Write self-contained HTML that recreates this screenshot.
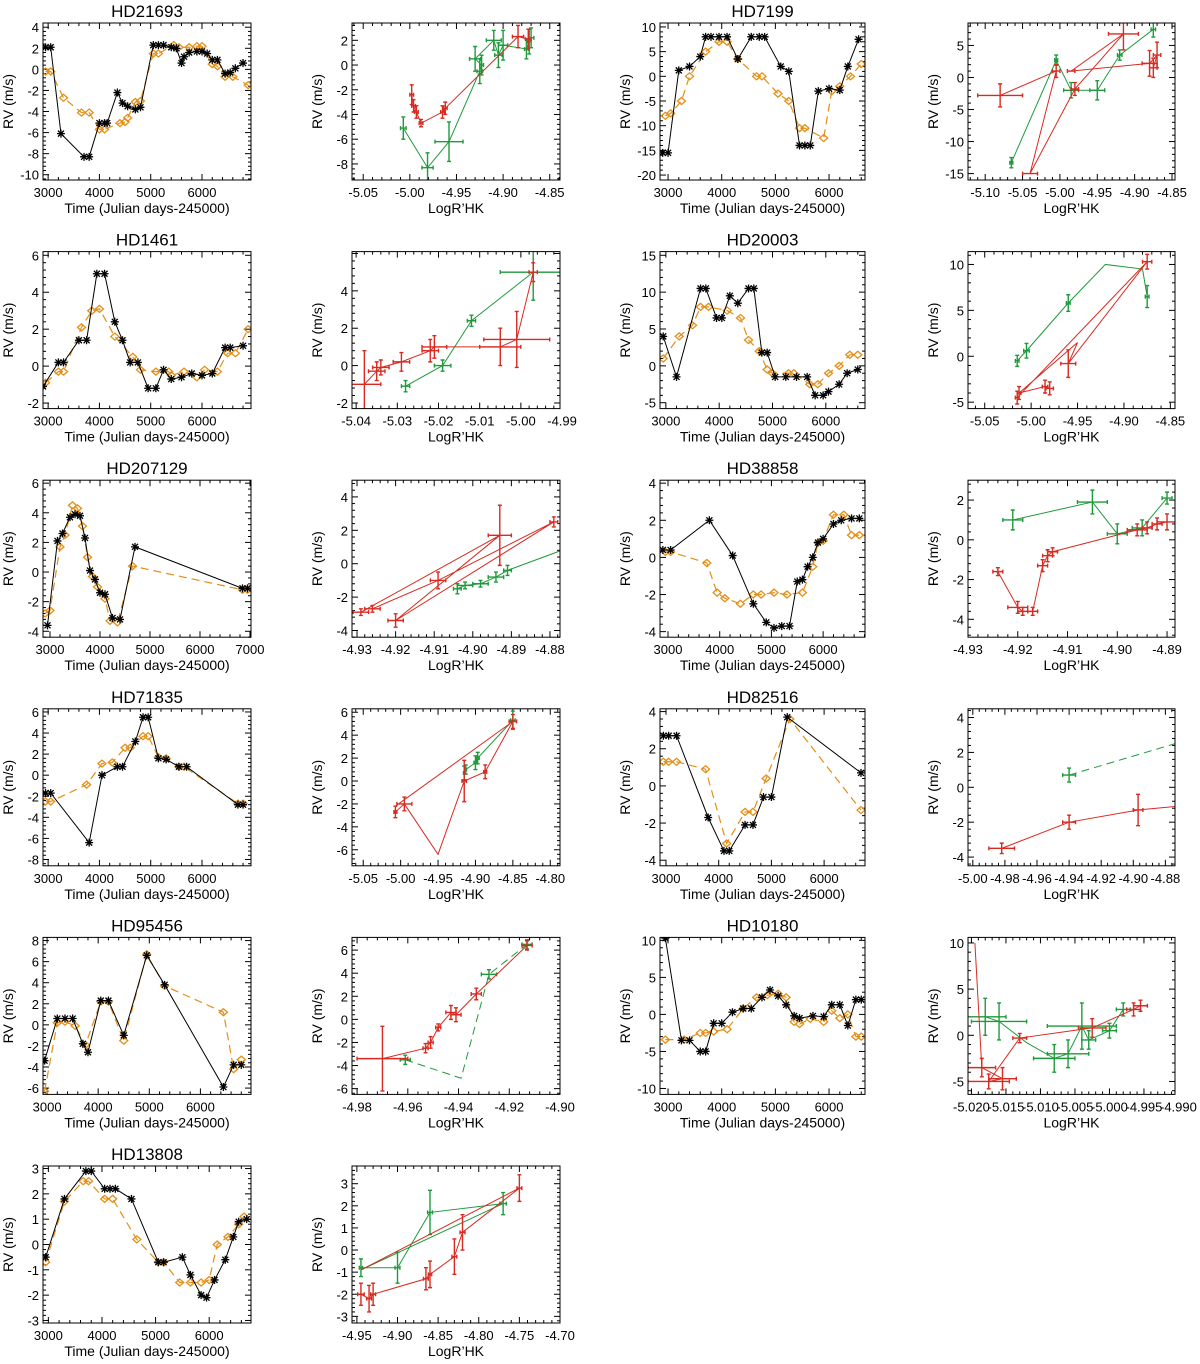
<!DOCTYPE html>
<html><head><meta charset="utf-8">
<style>
html,body{margin:0;padding:0;background:#fff;}
svg{display:block;font-family:"Liberation Sans",Arial,sans-serif;}
</style></head>
<body>
<svg id="fig" width="1200" height="1364" viewBox="0 0 1200 1364" xmlns="http://www.w3.org/2000/svg"></svg>
<script>
// ---- Time-series data: [time, rv] ----
const hd21693_black=[[2950,2.1],[3050,2.1],[3250,-6.1],[3700,-8.3],[3800,-8.3],[4000,-5.1],[4100,-5.1],[4150,-5.1],[4350,-2.2],[4450,-3.2],[4550,-3.5],[4700,-3.8],[4800,-3.6],[5050,2.3],[5150,2.3],[5250,2.3],[5400,2.1],[5500,2.0],[5600,0.6],[5650,1.2],[5750,1.6],[5900,1.7],[6000,1.7],[6100,1.5],[6200,0.9],[6300,0.9],[6450,-0.4],[6550,-0.3],[6650,0.1],[6800,0.6]];
const hd21693_orange=[[2950,-0.2],[3050,-0.2],[3300,-2.7],[3650,-4.1],[3800,-4.1],[4000,-5.7],[4100,-5.7],[4400,-5.1],[4500,-5.0],[4550,-4.6],[4700,-3.1],[4800,-3.0],[5050,1.5],[5150,1.5],[5450,2.3],[5550,2.1],[5750,2.1],[5900,2.2],[6000,2.2],[6200,0.5],[6300,0.3],[6450,-0.7],[6600,-0.7],[6900,-1.5]];
const hd7199_black=[[2900,-15.5],[3000,-15.5],[3200,1.2],[3400,2],[3600,4],[3700,8],[3800,8],[3950,8],[4100,8],[4300,3.5],[4550,8],[4700,8],[4800,8],[5100,2],[5250,1],[5450,-14],[5550,-14],[5650,-14],[5800,-3],[6000,-2.5],[6200,-2.8],[6350,2],[6550,7.5]];
const hd7199_orange=[[2950,-8],[3050,-7.5],[3250,-5],[3400,0],[3700,5],[3950,7],[4100,7],[4300,3.5],[4650,0],[4750,0],[5050,-3.5],[5250,-5],[5450,-10.5],[5550,-10.5],[5900,-12.5],[6050,-3],[6200,-2],[6400,0],[6600,2.5]];
const hd1461_black=[[2900,-1.1],[3200,0.2],[3300,0.2],[3600,1.4],[3750,1.4],[3950,5],[4100,5],[4300,2.4],[4450,1.4],[4600,0.2],[4750,0.2],[4950,-1.2],[5100,-1.2],[5250,-0.2],[5400,-0.7],[5600,-0.6],[5800,-0.4],[6000,-0.5],[6200,-0.4],[6450,1],[6550,1],[6800,1.1]];
const hd1461_orange=[[2950,-0.9],[3200,-0.3],[3300,-0.3],[3650,2.1],[3850,3],[4000,3.1],[4300,1.6],[4650,0.5],[4800,-0.2],[5100,-0.3],[5350,-0.3],[5400,-0.5],[5650,-0.3],[5900,-0.6],[6050,-0.2],[6300,-0.3],[6500,0.7],[6650,0.7],[6900,2]];
const hd20003_black=[[2950,4],[3200,-1.5],[3650,10.5],[3750,10.5],[3950,6.5],[4050,6.5],[4200,9.5],[4350,8.5],[4550,10.5],[4650,10.5],[4800,1.8],[4900,1.8],[5050,-1.5],[5250,-1.5],[5450,-1.5],[5650,-1.5],[5800,-4],[5950,-4],[6050,-3.5],[6250,-2.5],[6400,-1],[6600,-0.5]];
const hd20003_orange=[[2950,1],[3250,4],[3500,5.5],[3650,8],[3800,8],[4150,7.5],[4400,6.5],[4550,3.5],[4750,2],[4900,-0.5],[5000,-1],[5300,-1],[5400,-1],[5700,-2.5],[5850,-2.5],[6050,-1],[6250,0],[6450,1.5],[6600,1.5]];
const hd207129_black=[[2950,-3.6],[3150,2.1],[3250,2.6],[3400,3.7],[3500,3.9],[3600,3.8],[3700,2.3],[3800,0.1],[3900,-0.5],[4000,-1.4],[4100,-1.5],[4250,-3.1],[4400,-3.2],[4700,1.7],[6850,-1.1],[6950,-1.1]];
const hd207129_orange=[[2900,-2.8],[3000,-2.6],[3200,1.7],[3300,2.5],[3450,4.5],[3550,4.3],[3650,3.1],[3750,1],[3850,-0.3],[3950,-1],[4100,-1.8],[4200,-3.3],[4350,-3.4],[4650,0.4],[6850,-1.2],[6950,-1.2]];
const hd38858_black=[[2900,0.4],[3050,0.4],[3800,2],[4250,0.1],[4650,-2.5],[4900,-3.5],[5050,-3.8],[5200,-3.7],[5350,-3.7],[5500,-1.3],[5600,-1.2],[5700,-0.5],[5800,0],[5900,0.8],[6000,1],[6200,1.8],[6350,2],[6550,2.1],[6700,2.1]];
const hd38858_orange=[[2950,0.3],[3050,0.3],[3750,-0.3],[3950,-1.9],[4100,-2.2],[4400,-2.5],[4650,-2],[4800,-2],[5050,-1.9],[5300,-2],[5600,-1.9],[5800,-0.5],[5900,0.8],[6000,0.9],[6200,2.3],[6400,2.3],[6550,1.2],[6700,1.2]];
const hd71835_black=[[2950,-1.7],[3050,-1.7],[3800,-6.4],[4050,0],[4350,0.8],[4450,0.8],[4700,3.2],[4850,5.5],[4950,5.5],[5150,1.6],[5300,1.5],[5550,0.8],[5700,0.8],[6700,-2.8],[6800,-2.8]];
const hd71835_orange=[[2950,-2.5],[3050,-2.5],[3750,-0.9],[4050,1.1],[4250,1.2],[4500,2.6],[4600,2.6],[4850,3.7],[4950,3.7],[5150,1.7],[5300,1.6],[5550,0.8],[5650,0.8],[6700,-2.7],[6800,-2.7]];
const hd82516_black=[[2950,2.7],[3050,2.7],[3200,2.7],[3800,-1.7],[4100,-3.5],[4200,-3.5],[4500,-2.1],[4650,-2.1],[4850,-0.6],[5000,-0.6],[5300,3.7],[6700,0.7]];
const hd82516_orange=[[2950,1.3],[3050,1.3],[3200,1.3],[3750,0.9],[4150,-3.1],[4500,-1.4],[4650,-1.4],[4900,0.4],[5350,3.6],[6700,-1.3]];
const hd95456_black=[[2950,-3.4],[3200,0.6],[3350,0.6],[3500,0.6],[3700,-1.8],[3800,-2.6],[4050,2.3],[4200,2.3],[4500,-1],[4950,6.6],[5300,3.8],[6450,-5.9],[6650,-3.8],[6800,-3.8]];
const hd95456_orange=[[2950,-6.3],[3200,0.2],[3350,0.3],[3550,-0.1],[3750,-1.9],[4050,2.2],[4200,2.2],[4500,-1.5],[4950,6.7],[5300,3.7],[6450,1.2],[6650,-4.2],[6800,-3.3]];
const hd10180_black=[[2950,10.3],[3250,-3.5],[3400,-3.5],[3600,-5],[3700,-5],[3850,-1.2],[4000,-1.2],[4200,0.3],[4400,0.8],[4550,0.8],[4750,2.3],[4900,3.3],[5050,2.5],[5200,1.3],[5350,-0.2],[5450,-0.5],[5700,-0.2],[5900,-0.3],[6050,1.3],[6200,1.3],[6350,-1.5],[6500,2],[6600,2]];
const hd10180_orange=[[2950,-3.4],[3300,-3.4],[3600,-2.5],[3700,-2.5],[3850,-2.3],[4100,-2],[4400,0.8],[4650,2.3],[4850,2.6],[5050,2.8],[5200,2.3],[5350,-1],[5450,-1.3],[5650,-0.6],[5900,-1],[6050,0.5],[6200,-0.5],[6350,0],[6500,-3],[6600,-3]];
const hd13808_black=[[2950,-0.5],[3300,1.8],[3700,2.9],[3800,2.9],[4050,2.2],[4150,2.2],[4250,2.2],[4550,1.8],[5050,-0.7],[5150,-0.7],[5500,-0.5],[5650,-1.2],[5850,-2],[5950,-2.1],[6100,-1.4],[6300,-0.6],[6450,0.3],[6550,0.9],[6700,1]];
const hd13808_orange=[[2950,-0.7],[3300,1.7],[3650,2.5],[3750,2.5],[4050,1.8],[4200,1.8],[4650,0.2],[5050,-0.7],[5150,-0.7],[5450,-1.5],[5650,-1.5],[5850,-1.5],[6000,-1.4],[6150,0],[6350,0.3],[6550,0.8],[6650,1.1]];
// ---- Activity data: [logRHK, rv, errX, errY] ----
const hd21693_red=[[-4.998,-2.4,0.002,0.8],[-4.996,-3.3,0.002,0.5],[-4.993,-3.8,0.002,0.5],[-4.988,-4.7,0.002,0.3],[-4.965,-3.8,0.002,0.5],[-4.962,-3.5,0.002,0.5],[-4.884,2.3,0.006,0.9],[-4.873,2.1,0.003,0.8]];
const hd21693_green=[[-5.007,-5.1,0.003,0.9],[-4.981,-8.3,0.006,1.2],[-4.958,-6.2,0.015,1.6],[-4.925,-0.5,0.003,1],[-4.923,0.0,0.002,0.8],[-4.93,0.5,0.006,1],[-4.91,2.0,0.008,0.8],[-4.905,0.8,0.004,1],[-4.9,1.6,0.005,1.2],[-4.875,1.3,0.002,0.8],[-4.872,1.9,0.002,1],[-4.87,2.2,0.003,0.8]];
const hd7199_red=[[-5.08,-2.8,0.03,1.8],[-5.005,1,0.005,1],[-5.04,-15,0.01,0],[-4.98,-1.8,0.005,1],[-4.915,6.8,0.02,2.5],[-4.985,1,0.005,0],[-4.88,2.2,0.01,2],[-4.87,3.5,0.005,2],[-4.875,1.5,0.005,1.5]];
const hd7199_green=[[-5.065,-13.3,0.002,0.8],[-5.005,2.7,0.002,0.8],[-4.985,-2,0.01,1.2],[-4.95,-2,0.01,1.5],[-4.92,3.5,0.003,0.8],[-4.875,7.5,0.003,1.2]];
const hd1461_red=[[-5.038,-1,0.004,1.8],[-5.035,-0.3,0.002,0.5],[-5.034,-0.1,0.002,0.4],[-5.029,0.2,0.002,0.5],[-5.022,0.8,0.002,0.6],[-5.021,1,0.003,0.6],[-5.005,1,0.005,1],[-5.001,1.4,0.008,1.5],[-4.997,5,0.001,0.5]];
const hd1461_green=[[-5.028,-1.1,0.001,0.3],[-5.019,0,0.002,0.3],[-5.012,2.4,0.001,0.3],[-4.997,5,0.008,1.5]];
const hd20003_red=[[-5.015,-4.5,0.002,0.7],[-4.875,10.3,0.005,0.8],[-4.96,-0.8,0.008,1.5],[-4.95,1.5,0,0],[-5.013,-4,0.002,0.7],[-4.985,-3.3,0.003,0.7],[-4.98,-3.5,0.004,0.7]];
const hd20003_green=[[-5.015,-0.5,0.002,0.6],[-5.005,0.6,0.003,0.8],[-4.96,5.8,0.002,0.9],[-4.92,10,0,0],[-4.88,9.5,0,0],[-4.875,6.5,0.002,1.2]];
const hd207129_red=[[-4.929,-2.9,0.002,0.2],[-4.893,1.7,0.003,1.8],[-4.92,-3.4,0.002,0.4],[-4.879,2.5,0.001,0.3],[-4.909,-1,0.002,0.5],[-4.926,-2.7,0.002,0.2]];
const hd207129_green=[[-4.904,-1.5,0.001,0.3],[-4.902,-1.3,0.002,0.2],[-4.898,-1.2,0.002,0.2],[-4.894,-0.8,0.002,0.3],[-4.891,-0.4,0.001,0.3],[-4.877,0.8,0,0]];
const hd38858_red=[[-4.924,-1.6,0.001,0.2],[-4.92,-3.4,0.002,0.3],[-4.919,-3.6,0.001,0.2],[-4.917,-3.6,0.001,0.2],[-4.915,-1.3,0.001,0.3],[-4.914,-0.8,0.001,0.3],[-4.913,-0.6,0.001,0.2],[-4.896,0.5,0.002,0.3],[-4.894,0.6,0.001,0.3],[-4.892,0.8,0.001,0.3],[-4.89,0.9,0.002,0.4]];
const hd38858_green=[[-4.921,1,0.002,0.5],[-4.905,1.9,0.003,0.6],[-4.9,0.3,0.002,0.5],[-4.895,0.6,0.002,0.4],[-4.89,2.1,0.001,0.3]];
const hd71835_red=[[-5.007,-2.7,0.002,0.5],[-4.995,-2,0.01,0.6],[-4.95,-6.4,0,0],[-4.915,0,0.003,1.8],[-4.887,0.8,0.002,0.6],[-4.85,5.2,0.005,0.6],[-5.007,-2.2,0,0]];
const hd71835_green=[[-4.915,0.7,0.001,0.6],[-4.913,1,0.001,0.4],[-4.9,1.6,0.002,0.6],[-4.897,2,0.002,0.5],[-4.85,5.3,0.003,0.8]];
const hd82516_red=[[-4.982,-3.5,0.008,0.3],[-4.94,-2,0.004,0.4],[-4.897,-1.3,0.003,0.9],[-4.874,-1.1,0,0]];
const hd82516_green=[[-4.94,0.7,0.004,0.4],[-4.874,2.5,0,0]];
const hd95456_red=[[-4.97,-3.4,0.01,2.8],[-4.953,-2.5,0.001,0.4],[-4.951,-2,0.001,0.5],[-4.948,-0.7,0.001,0.3],[-4.943,0.6,0.002,0.6],[-4.941,0.4,0.002,0.6],[-4.933,2.2,0.002,0.5],[-4.913,6.4,0.002,0.4]];
const hd95456_green=[[-4.961,-3.5,0.002,0.4],[-4.939,-5.1,0,0],[-4.928,3.9,0.003,0.4],[-4.913,6.5,0.002,0.4]];
const hd10180_red=[[-5.0195,10,0,0],[-5.0185,-3.5,0.002,1],[-5.0155,-4.7,0.002,1.2],[-5.0175,-5,0.003,0.8],[-5.013,-0.3,0.001,0.5],[-5.0025,0.8,0.002,1],[-4.9965,2.8,0.001,0.7],[-4.9955,3.2,0.001,0.6]];
const hd10180_green=[[-5.018,2,0.003,2],[-5.016,1.5,0.004,2],[-5.012,-0.8,0,0],[-5.008,-2.5,0.003,1.5],[-5.006,-2,0.003,1.5],[-5.004,1,0.005,2.5],[-5.003,-0.5,0.001,1],[-5.0,0.5,0.001,0.8],[-4.998,2.8,0.001,0.7]];
const hd13808_red=[[-4.945,-2,0.004,0.5],[-4.935,-2.2,0.003,0.6],[-4.93,-2,0.003,0.5],[-4.865,-1.3,0.003,0.5],[-4.86,-1.1,0.002,0.6],[-4.83,-0.3,0.003,0.8],[-4.82,0.8,0.003,0.8],[-4.75,2.8,0.003,0.6],[-4.945,-0.9,0,0]];
const hd13808_green=[[-4.945,-0.8,0.002,0.4],[-4.9,-0.8,0.003,0.7],[-4.86,1.7,0.003,1],[-4.77,2.1,0.004,0.5],[-4.945,-0.9,0,0]];
// ---- Tick labels ----
const ticksT1=[3000,4000,5000,6000], ticksT2=[3000,4000,5000,6000,7000];
const ticksA1=[-5.05,-5.00,-4.95,-4.90,-4.85], ticksA2=[-5.10,-5.05,-5.00,-4.95,-4.90,-4.85];
const ticksA3=[-5.04,-5.03,-5.02,-5.01,-5.00,-4.99], ticksA4=[-4.93,-4.92,-4.91,-4.90,-4.89,-4.88];
const ticksA5=[-4.93,-4.92,-4.91,-4.90,-4.89], ticksA6=[-5.05,-5.00,-4.95,-4.90,-4.85,-4.80];
const ticksA7=[-5.00,-4.98,-4.96,-4.94,-4.92,-4.90,-4.88], ticksA8=[-4.98,-4.96,-4.94,-4.92,-4.90];
const ticksA9=[-5.020,-5.015,-5.010,-5.005,-5.000,-4.995,-4.990], ticksA10=[-4.95,-4.90,-4.85,-4.80,-4.75,-4.70];

const COLX=[[43,251],[352,560],[660,865],[968,1175]];
const NS='http://www.w3.org/2000/svg', svg=document.getElementById('fig');
function mk(t,a,p){const e=document.createElementNS(NS,t);for(const k in a)e.setAttribute(k,a[k]);(p||svg).appendChild(e);return e;}
function fmt(v,d){return v.toFixed(d);}
const panels=[
 {r:0,c:0,title:'HD21693',type:'t',xr:[2900,6955],yr:[-10.5,4.4],xt:ticksT1,yt:[-10,-8,-6,-4,-2,0,2,4],k:[hd21693_black,hd21693_orange],dx:0},
 {r:0,c:1,type:'a',xr:[-5.062,-4.839],yr:[-9.3,3.4],xt:ticksA1,yt:[-8,-6,-4,-2,0,2],k:[hd21693_red,hd21693_green],dx:2},
 {r:0,c:2,title:'HD7199',type:'t',xr:[2850,6670],yr:[-21,10.8],xt:ticksT1,yt:[-20,-15,-10,-5,0,5,10],k:[hd7199_black,hd7199_orange],dx:0},
 {r:0,c:3,type:'a',xr:[-5.123,-4.846],yr:[-16,8.5],xt:ticksA2,yt:[-15,-10,-5,0,5],k:[hd7199_red,hd7199_green],dx:2},
 {r:1,c:0,title:'HD1461',type:'t',xr:[2900,6955],yr:[-2.3,6.2],xt:ticksT1,yt:[-2,0,2,4,6],k:[hd1461_black,hd1461_orange],dx:0},
 {r:1,c:1,type:'a',xr:[-5.041,-4.9905],yr:[-2.3,6.1],xt:ticksA3,yt:[-2,0,2,4],k:[hd1461_red,hd1461_green],dx:2},
 {r:1,c:2,title:'HD20003',type:'t',xr:[2890,6735],yr:[-5.8,15.5],xt:ticksT1,yt:[-5,0,5,10,15],k:[hd20003_black,hd20003_orange],dx:0},
 {r:1,c:3,type:'a',xr:[-5.068,-4.845],yr:[-5.7,11.4],xt:ticksA1,yt:[-5,0,5,10],k:[hd20003_red,hd20003_green],dx:2},
 {r:2,c:0,title:'HD207129',type:'t',xr:[2860,7020],yr:[-4.4,6.2],xt:ticksT2,yt:[-4,-2,0,2,4,6],k:[hd207129_black,hd207129_orange],dx:0},
 {r:2,c:1,type:'a',xr:[-4.9313,-4.8774],yr:[-4.4,5],xt:ticksA4,yt:[-4,-2,0,2,4],k:[hd207129_red,hd207129_green],dx:2},
 {r:2,c:2,title:'HD38858',type:'t',xr:[2845,6810],yr:[-4.3,4.16],xt:ticksT1,yt:[-4,-2,0,2,4],k:[hd38858_black,hd38858_orange],dx:0},
 {r:2,c:3,type:'a',xr:[-4.930,-4.8884],yr:[-4.9,3.0],xt:ticksA5,yt:[-4,-2,0,2],k:[hd38858_red,hd38858_green],dx:2},
 {r:3,c:0,title:'HD71835',type:'t',xr:[2900,6955],yr:[-8.6,6.3],xt:ticksT1,yt:[-8,-6,-4,-2,0,2,4,6],k:[hd71835_black,hd71835_orange],dx:0},
 {r:3,c:1,type:'a',xr:[-5.065,-4.787],yr:[-7.4,6.3],xt:ticksA6,yt:[-6,-4,-2,0,2,4,6],k:[hd71835_red,hd71835_green],dx:2},
 {r:3,c:2,title:'HD82516',type:'t',xr:[2886,6776],yr:[-4.3,4.15],xt:ticksT1,yt:[-4,-2,0,2,4],k:[hd82516_black,hd82516_orange],dx:0},
 {r:3,c:3,type:'a',xr:[-5.003,-4.874],yr:[-4.5,4.5],xt:ticksA7,yt:[-4,-2,0,2,4],k:[hd82516_red,hd82516_green],dx:2,gdash:true},
 {r:4,c:0,title:'HD95456',type:'t',xr:[2920,6990],yr:[-6.6,8.3],xt:ticksT1,yt:[-6,-4,-2,0,2,4,6,8],k:[hd95456_black,hd95456_orange],dx:0},
 {r:4,c:1,type:'a',xr:[-4.982,-4.90],yr:[-6.5,7.1],xt:ticksA8,yt:[-6,-4,-2,0,2,4,6],k:[hd95456_red,hd95456_green],dx:2,gdash:true},
 {r:4,c:2,title:'HD10180',type:'t',xr:[2850,6670],yr:[-10.8,10.4],xt:ticksT1,yt:[-10,-5,0,5,10],k:[hd10180_black,hd10180_orange],dx:0},
 {r:4,c:3,type:'a',xr:[-5.0205,-4.9905],yr:[-6.4,10.6],xt:ticksA9,yt:[-5,0,5,10],k:[hd10180_red,hd10180_green],dx:3},
 {r:5,c:0,title:'HD13808',type:'t',xr:[2900,6780],yr:[-3.1,3.1],xt:ticksT1,yt:[-3,-2,-1,0,1,2,3],k:[hd13808_black,hd13808_orange],dx:0},
 {r:5,c:1,type:'a',xr:[-4.956,-4.700],yr:[-3.3,3.8],xt:ticksA10,yt:[-3,-2,-1,0,1,2,3],k:[hd13808_red,hd13808_green],dx:2}
];
panels.forEach((p,i)=>{
 const L=COLX[p.c][0],R=COLX[p.c][1],T=23+228.6*p.r,B=180+228.6*p.r;
 const g=mk('g',{});
 
 
 const X=v=>L+(v-p.xr[0])/(p.xr[1]-p.xr[0])*(R-L);
 const Y=v=>B-(v-p.yr[0])/(p.yr[1]-p.yr[0])*(B-T);
 const cp=mk('clipPath',{id:'cp'+i},g);mk('rect',{x:L,y:T,width:R-L,height:B-T},cp);
 // ticks
 const tk=mk('g',{stroke:'#000','stroke-width':1},g);
 const xs=p.xt[1]-p.xt[0], ys=p.yt[1]-p.yt[0];
 for(let v=p.xt[0]-xs;v<=p.xr[1]+1e-9;v+=xs/5){if(v<p.xr[0]-1e-9)continue;const x=X(v);const maj=Math.abs(((v-p.xt[0])/xs)-Math.round((v-p.xt[0])/xs))<1e-6;const l=maj?6:3;mk('line',{x1:x,x2:x,y1:B,y2:B-l},tk);mk('line',{x1:x,x2:x,y1:T,y2:T+l},tk);}
 for(let v=p.yt[0]-ys;v<=p.yr[1]+1e-9;v+=ys/5){if(v<p.yr[0]-1e-9)continue;const y=Y(v);const maj=Math.abs(((v-p.yt[0])/ys)-Math.round((v-p.yt[0])/ys))<1e-6;const l=maj?6:3;mk('line',{x1:L,x2:L+l,y1:y,y2:y},tk);mk('line',{x1:R,x2:R-l,y1:y,y2:y},tk);}
 p.xt.forEach(v=>{const t=mk('text',{x:X(v),y:B+17,'font-size':13,'text-anchor':'middle'},g);t.textContent=fmt(v,p.dx);});
 p.yt.forEach(v=>{const t=mk('text',{x:L-4,y:Y(v)+5,'font-size':13,'text-anchor':'end'},g);t.textContent=fmt(v,0);});
 const xt=mk('text',{x:(L+R)/2,y:B+33,'font-size':14,'text-anchor':'middle'},g);
 xt.textContent=p.type==='t'?'Time (Julian days-245000)':'LogR\u2019HK';
 
 const yt=mk('text',{x:0,y:0,'font-size':14,'text-anchor':'middle',transform:`translate(${L-30},${(T+B)/2}) rotate(-90)`},g);
 yt.textContent='RV (m/s)';
 if(p.title){const tt=mk('text',{x:(L+R)/2,y:T-6,'font-size':17,'text-anchor':'middle'},g);tt.textContent=p.title;}
 const d=mk('g',{'clip-path':`url(#cp${i})`},g);
 if(p.type==='t'){
  const [bk,or]=p.k;
  const ol=mk('polyline',{points:or.map(q=>X(q[0])+','+Y(q[1])).join(' '),fill:'none',stroke:'#e58e15','stroke-width':1.2,'stroke-dasharray':'8,5'},d);
  
  or.forEach(q=>{const x=X(q[0]),y=Y(q[1]);const m=mk('path',{d:`M${x-4},${y}L${x},${y-3.5}L${x+4},${y}L${x},${y+3.5}Z`,fill:'none',stroke:'#e58e15','stroke-width':1.3},d);});
  const bl=mk('polyline',{points:bk.map(q=>X(q[0])+','+Y(q[1])).join(' '),fill:'none',stroke:'#000','stroke-width':1},d);
  
  bk.forEach(q=>{const x=X(q[0]),y=Y(q[1]);const m=mk('path',{d:`M${x-4},${y}H${x+4}M${x},${y-4}V${y+4}M${x-3},${y-3}L${x+3},${y+3}M${x-3},${y+3}L${x+3},${y-3}`,stroke:'#000','stroke-width':1.3},d);});
 } else {
  [[p.k[1],'#1e9a3c',p.gdash],[p.k[0],'#d82a20',false]].forEach(([arr,col,dash])=>{
   const ln=mk('polyline',{points:arr.map(q=>X(q[0])+','+Y(q[1])).join(' '),fill:'none',stroke:col,'stroke-width':1,'stroke-dasharray':dash?'8,5':'none'},d);
   
   arr.forEach(q=>{if(q[2]===0&&q[3]===0)return;const x=X(q[0]),y=Y(q[1]),x1=X(q[0]-q[2]),x2=X(q[0]+q[2]),y1=Y(q[1]+q[3]),y2=Y(q[1]-q[3]);
    const m=mk('path',{d:`M${x1},${y}H${x2}M${x},${y1}V${y2}M${x1},${y-2}V${y+2}M${x2},${y-2}V${y+2}M${x-2},${y1}H${x+2}M${x-2},${y2}H${x+2}`,stroke:col,'stroke-width':1.4,fill:'none'},d);
    });
  });
 }
 const fr=mk('rect',{x:L,y:T,width:R-L,height:B-T,fill:'none',stroke:'#000','stroke-width':1},g);
 
});
</script>
</body></html>
